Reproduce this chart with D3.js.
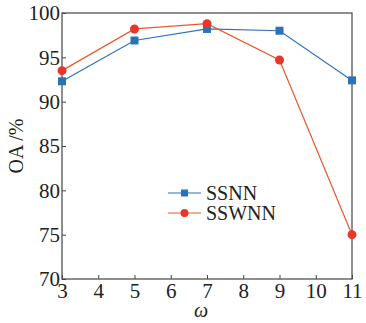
<!DOCTYPE html>
<html lang='en'>
<head>
  <meta charset='UTF-8'>
  <title>OA vs omega</title>
  <script src="https://d3js.org/d3.v7.min.js"></script>
  <style>
    body { margin: 0; background: #fff; }
    svg text { font-family: "Liberation Serif", "Times New Roman", serif; fill: #222; }
  </style>
</head>
<body>
  <div id="chart"></div>
  <script>
    const omega = [3, 5, 7, 9, 11];
    const ssnn = [92.3, 96.9, 98.2, 98.0, 92.4];
    const sswnn = [93.5, 98.2, 98.8, 94.7, 75.0];
    const xTicks = [3, 4, 5, 6, 7, 8, 9, 10, 11];
    const yTicks = [70, 75, 80, 85, 90, 95, 100];

    const W = 366, H = 323;
    const m = { left: 62, right: 14, top: 13, bottom: 44 };

    const svg = d3.select('#chart').append('svg')
      .attr('width', W).attr('height', H);

    const x = d3.scaleLinear().domain([3, 11]).range([m.left, W - m.right]);
    const y = d3.scaleLinear().domain([70, 100]).range([H - m.bottom, m.top]);

    // frame
    svg.append('rect')
      .attr('x', m.left).attr('y', m.top)
      .attr('width', W - m.right - m.left).attr('height', H - m.bottom - m.top)
      .attr('fill', 'none').attr('stroke', '#444').attr('stroke-width', 1.2);

    const xAxis = svg.append('g')
      .attr('transform', `translate(0, ${H - m.bottom})`)
      .call(d3.axisBottom(x).tickValues(xTicks).tickSize(-4).tickPadding(4).tickFormat(d3.format('d')));
    const yAxis = svg.append('g')
      .attr('transform', `translate(${m.left}, 0)`)
      .call(d3.axisLeft(y).tickValues(yTicks).tickSize(-4).tickPadding(2));

    [xAxis, yAxis].forEach((g) => {
      g.select('.domain').remove();
      g.selectAll('line').attr('stroke', '#444');
      g.selectAll('text').attr('font-size', 21).attr('fill', '#222');
    });

    svg.append('text')
      .attr('x', (m.left + W - m.right) / 2 - 6).attr('y', 317)
      .attr('text-anchor', 'middle')
      .attr('font-size', 20).attr('font-style', 'italic')
      .text('ω');

    svg.append('text')
      .attr('transform', `translate(23, ${(m.top + H - m.bottom) / 2}) rotate(-90)`)
      .attr('text-anchor', 'middle')
      .attr('font-size', 20)
      .text('OA /%');

    const blue = '#2b73b7';
    const redLine = '#e8582c';
    const redDot = '#e8362a';

    const line = d3.line().x((d) => x(d[0])).y((d) => y(d[1]));

    svg.append('path')
      .datum(omega.map((o, i) => [o, ssnn[i]]))
      .attr('fill', 'none').attr('stroke', blue).attr('stroke-width', 1.2)
      .attr('d', line);
    svg.append('path')
      .datum(omega.map((o, i) => [o, sswnn[i]]))
      .attr('fill', 'none').attr('stroke', redLine).attr('stroke-width', 1.2)
      .attr('d', line);

    svg.selectAll('.sq').data(omega.map((o, i) => [o, ssnn[i]])).enter()
      .append('rect')
      .attr('x', (d) => x(d[0]) - 4).attr('y', (d) => y(d[1]) - 4)
      .attr('width', 8).attr('height', 8).attr('fill', blue);

    svg.selectAll('.dot').data(omega.map((o, i) => [o, sswnn[i]])).enter()
      .append('circle')
      .attr('cx', (d) => x(d[0])).attr('cy', (d) => y(d[1]))
      .attr('r', 4.5).attr('fill', redDot);

    // legend
    const legend = [
      { name: 'SSNN', color: blue, shape: 'sq' },
      { name: 'SSWNN', color: redLine, shape: 'dot' }
    ];
    legend.forEach((l, i) => {
      const ly = 193 + i * 20;
      svg.append('line').attr('x1', 168).attr('x2', 201).attr('y1', ly).attr('y2', ly)
        .attr('stroke', l.color).attr('stroke-width', 1.2);
      if (l.shape === 'sq') {
        svg.append('rect').attr('x', 181).attr('y', ly - 3.5).attr('width', 7).attr('height', 7).attr('fill', blue);
      } else {
        svg.append('circle').attr('cx', 184.5).attr('cy', ly).attr('r', 4).attr('fill', redDot);
      }
      svg.append('text').attr('x', 206).attr('y', ly).attr('dy', '0.35em')
        .attr('font-size', 20).text(l.name);
    });
  </script>
</body>
</html>
